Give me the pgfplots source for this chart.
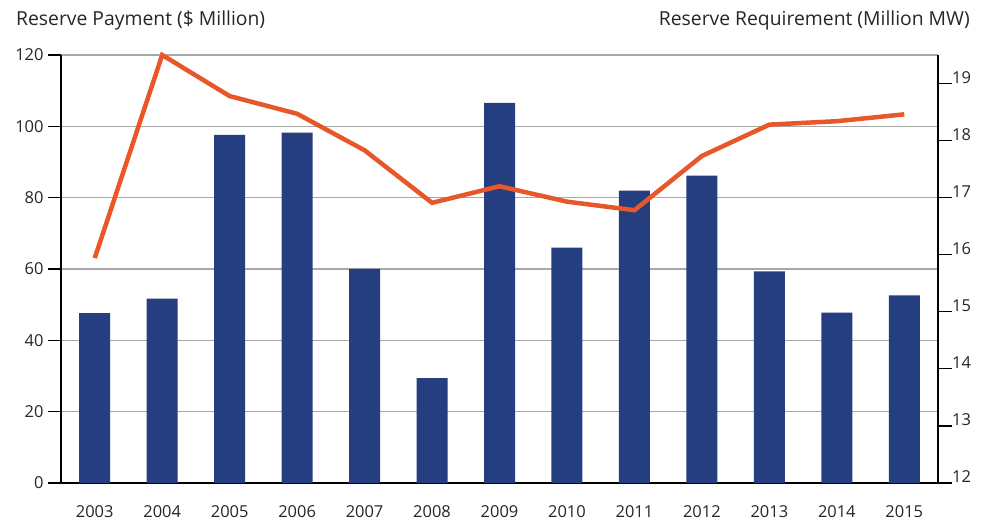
\documentclass[border=0pt]{standalone}
\usepackage{pgfplots}
\pgfplotsset{compat=1.18}
\usepackage{fontspec}
\setmainfont{Open Sans}
\definecolor{barblue}{HTML}{243E7F}
\definecolor{lineorange}{HTML}{E8572A}
\definecolor{gridgray}{HTML}{A8A8A8}
\pgfplotstableread{
x pay
0 47.6
1 51.7
2 97.6
3 98.2
4 60.0
5 29.4
6 106.6
7 66.0
8 82.0
9 86.2
10 59.3
11 47.8
12 52.6
}\paytable
\pgfplotstableread{
x req
0 15.94
1 19.50
2 18.78
3 18.47
4 17.83
5 16.91
6 17.20
7 16.93
8 16.78
9 17.73
10 18.28
11 18.34
12 18.46
}\reqtable
\begin{document}
\begin{tikzpicture}
\path[use as bounding box] (0,0) rectangle (995bp,525bp);
\begin{axis}[
  at={(61bp,42bp)}, anchor=south west,
  scale only axis, width=877bp, height=428bp,
  xmin=-0.5, xmax=12.5, ymin=0, ymax=120,
  axis x line*=bottom, axis y line*=left,
  axis line style={line width=2.2bp, black},
  ytick={0,20,...,120},
  xtick={0,...,12},
  xticklabels={2003,2004,2005,2006,2007,2008,2009,2010,2011,2012,2013,2014,2015},
  xtick style={draw=none},
  minor xtick={-0.5,0.5,...,12.5},
  minor x tick style={line width=1.2bp, black},
  minor tick length=12bp,
  tick align=outside,
  major tick length=13bp,
  ytick style={line width=1.2bp, black},
  ymajorgrids,
  grid style={line width=1.3bp, gridgray},
  ticklabel style={font=\fontsize{16.5}{18}\selectfont, text=black!85},
  /pgf/number format/assume math mode=true,
  xticklabel style={anchor=base, inner sep=1bp, yshift=-21bp},
  yticklabel style={xshift=-1bp},
  clip=false,
]
\addplot[ybar, bar width=31bp, fill=barblue, draw=none] table[x=x,y=pay]{\paytable};
\end{axis}
\begin{axis}[
  at={(61bp,42bp)}, anchor=south west,
  scale only axis, width=877bp, height=428bp,
  xmin=-0.5, xmax=12.5, ymin=12, ymax=19.5,
  axis x line=none, axis y line*=right,
  axis line style={line width=2.2bp, black},
  ytick={12,...,19},
  tick align=outside,
  major tick length=14bp,
  ytick style={line width=1.2bp, black},
  ticklabel style={font=\fontsize{16.5}{18}\selectfont, text=black!85},
  /pgf/number format/assume math mode=true,
  yticklabel style={anchor=base west, inner sep=0pt, xshift=0bp},
  clip=false,
]
\addplot[lineorange, line width=4.5bp, line join=miter] table[x=x,y=req]{\reqtable};
\end{axis}
\node[anchor=base west, inner sep=0pt, font=\fontsize{19.4}{22}\selectfont, text=black!85] at (16bp,499bp) {Reserve Payment (\$ Million)};
\node[anchor=base east, inner sep=0pt, font=\fontsize{19.4}{22}\selectfont, text=black!85] at (970bp,499bp) {Reserve Requirement (Million MW)};
\end{tikzpicture}
\end{document}
